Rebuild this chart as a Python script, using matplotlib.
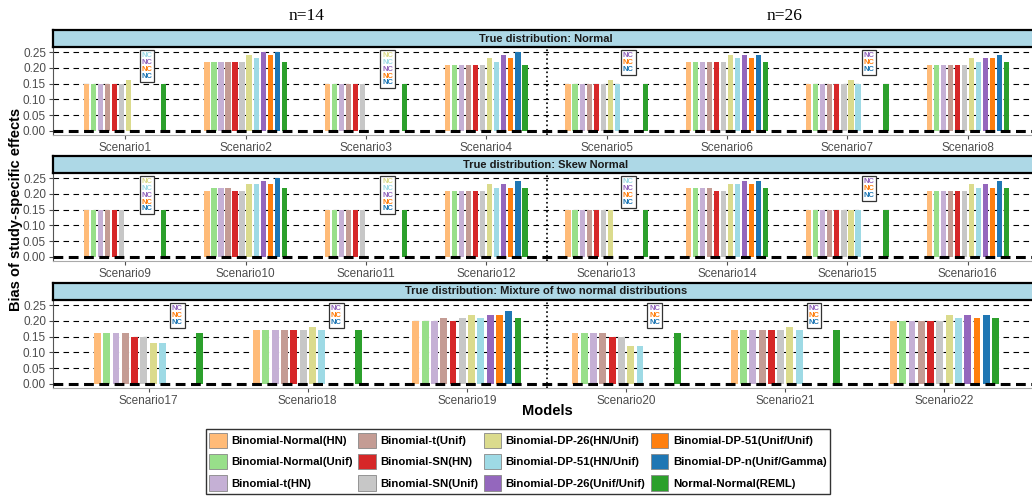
import numpy as np
import matplotlib
matplotlib.use('Agg')
import matplotlib.pyplot as plt
from matplotlib.patches import Patch

plt.rcParams['font.family'] = ['Liberation Sans', 'DejaVu Sans']

models = ['Binomial-Normal(HN)', 'Binomial-Normal(Unif)', 'Binomial-t(HN)',
          'Binomial-t(Unif)', 'Binomial-SN(HN)', 'Binomial-SN(Unif)',
          'Binomial-DP-26(HN/Unif)', 'Binomial-DP-51(HN/Unif)', 'Binomial-DP-26(Unif/Unif)',
          'Binomial-DP-51(Unif/Unif)', 'Binomial-DP-n(Unif/Gamma)', 'Normal-Normal(REML)']
colors = ['#ffbb78', '#98df8a', '#c5b0d5', '#c49c94', '#d62728', '#c7c7c7',
          '#dbdb8d', '#9edae5', '#9467bd', '#ff7f0e', '#1f77b4', '#2ca02c']

titles = ['True distribution: Normal', 'True distribution: Skew Normal',
          'True distribution: Mixture of two normal distributions']

scen_normal = ['Scenario1', 'Scenario2', 'Scenario3', 'Scenario4',
               'Scenario5', 'Scenario6', 'Scenario7', 'Scenario8']
scen_skew = ['Scenario9', 'Scenario10', 'Scenario11', 'Scenario12',
             'Scenario13', 'Scenario14', 'Scenario15', 'Scenario16']
scen_mix = ['Scenario17', 'Scenario18', 'Scenario19', 'Scenario20', 'Scenario21', 'Scenario22']

# bias per scenario, one value per model (None = not converged)
bias_normal = [
    [0.15, 0.15, 0.15, 0.15, 0.15, 0.15, 0.16, None, None, None, None, 0.15],
    [0.22, 0.22, 0.22, 0.22, 0.22, 0.22, 0.24, 0.23, 0.25, 0.24, 0.25, 0.22],
    [0.15, 0.15, 0.15, 0.15, 0.15, 0.15, None, None, None, None, None, 0.15],
    [0.21, 0.21, 0.21, 0.21, 0.21, 0.21, 0.23, 0.22, 0.24, 0.23, 0.25, 0.21],
    [0.15, 0.15, 0.15, 0.15, 0.15, 0.15, 0.16, 0.15, None, None, None, 0.15],
    [0.22, 0.22, 0.22, 0.22, 0.22, 0.22, 0.24, 0.23, 0.24, 0.23, 0.24, 0.22],
    [0.15, 0.15, 0.15, 0.15, 0.15, 0.15, 0.16, 0.15, None, None, None, 0.15],
    [0.21, 0.21, 0.21, 0.21, 0.21, 0.21, 0.23, 0.22, 0.23, 0.23, 0.24, 0.22],
]
bias_skew = [
    [0.15, 0.15, 0.15, 0.15, 0.15, 0.15, None, None, None, None, None, 0.15],
    [0.21, 0.22, 0.22, 0.22, 0.21, 0.21, 0.23, 0.23, 0.24, 0.23, 0.25, 0.22],
    [0.15, 0.15, 0.15, 0.15, 0.15, 0.15, None, None, None, None, None, 0.15],
    [0.21, 0.21, 0.21, 0.21, 0.21, 0.21, 0.23, 0.22, 0.23, 0.22, 0.24, 0.22],
    [0.15, 0.15, 0.15, 0.15, 0.15, 0.15, 0.15, None, None, None, None, 0.15],
    [0.22, 0.22, 0.22, 0.22, 0.21, 0.21, 0.23, 0.23, 0.24, 0.23, 0.24, 0.22],
    [0.15, 0.15, 0.15, 0.15, 0.15, 0.15, 0.15, 0.15, None, None, None, 0.15],
    [0.21, 0.21, 0.21, 0.21, 0.21, 0.21, 0.23, 0.22, 0.23, 0.22, 0.24, 0.22],
]
bias_mix = [
    [0.16, 0.16, 0.16, 0.16, 0.15, 0.15, 0.13, 0.13, None, None, None, 0.16],
    [0.17, 0.17, 0.17, 0.17, 0.17, 0.17, 0.18, 0.17, None, None, None, 0.17],
    [0.20, 0.20, 0.20, 0.21, 0.20, 0.21, 0.22, 0.21, 0.22, 0.22, 0.23, 0.21],
    [0.16, 0.16, 0.16, 0.16, 0.15, 0.15, 0.12, 0.12, None, None, None, 0.16],
    [0.17, 0.17, 0.17, 0.17, 0.17, 0.17, 0.18, 0.17, None, None, None, 0.17],
    [0.20, 0.20, 0.20, 0.20, 0.20, 0.20, 0.22, 0.21, 0.22, 0.21, 0.22, 0.21],
]

W, H = 1032, 500
fig = plt.figure(figsize=(W / 100, H / 100), dpi=100)

def fx(px):
    return px / W

def fy(py):
    return 1 - py / H

# panel pixel rows (strip top, panel top, panel bottom)
rows = [(30, 47, 135), (156, 173, 261), (283, 300, 388)]
left_px, right_px = 53, 1040
panels = [(bias_normal, scen_normal), (bias_skew, scen_skew), (bias_mix, scen_mix)]

nm = len(models)
dodge = 0.7
slot = dodge / nm

for p, ((data, scen), (st, pt, pb)) in enumerate(zip(panels, rows)):
    ax = fig.add_axes([fx(left_px), fy(pb), fx(right_px - left_px), (pb - pt) / H])
    ns = len(scen)
    xs = np.arange(1, ns + 1)
    vals = np.array([[np.nan if v is None else v for v in row] for row in data])

    for y in [0.05, 0.10, 0.15, 0.20, 0.25]:
        ax.axhline(y, color='black', lw=0.8, ls=(0, (5, 4)), zorder=1)

    for k in range(nm):
        off = -dodge / 2 + slot * (k + 0.5)
        ax.bar(xs + off, vals[:, k], width=slot * 0.74, color=colors[k], zorder=2)

    ax.axhline(0, color='black', lw=2.2, ls=(0, (3.2, 1.8)), zorder=3)
    ax.axvline(ns / 2 + 0.5, color='black', lw=1.2, ls=':', zorder=3)

    # NC boxes for models without results
    for i in range(ns):
        miss = [k for k in range(nm) if np.isnan(vals[i, k])]
        if not miss:
            continue
        n = len(miss)
        xt = xs[i] + 0.18
        ax.text(xt, 0.249, '\n'.join(['NC'] * n), ha='center', va='top', fontsize=5.5,
                fontweight='bold', color='none', linespacing=0.95, zorder=4,
                bbox=dict(boxstyle='square,pad=0.25', fc='white', ec='#333333', lw=0.9))
        for j, k in enumerate(miss):
            txt = '\n' * j + 'NC' + '\n' * (n - 1 - j)
            ax.text(xt, 0.249, txt, ha='center', va='top', fontsize=5.5,
                    fontweight='bold', color=colors[k], linespacing=0.95, zorder=5)

    ax.set_xlim(0.4, ns + 0.6)
    ax.set_ylim(-0.0127, 0.266)
    ax.set_xticks(xs)
    ax.set_xticklabels(scen)
    ax.set_yticks([0, 0.05, 0.10, 0.15, 0.20, 0.25])
    ax.set_yticklabels(['0.00', '0.05', '0.10', '0.15', '0.20', '0.25'])
    ax.tick_params(axis='both', labelsize=8.5, colors='#4d4d4d', length=3, width=0.8, pad=2)
    for s in ['top', 'right']:
        ax.spines[s].set_visible(False)
    ax.spines['left'].set_color('#555555')
    ax.spines['bottom'].set_color('#aaaaaa')
    ax.spines['left'].set_linewidth(0.8)
    ax.spines['bottom'].set_linewidth(0.8)

    sax = fig.add_axes([fx(left_px), fy(pt), fx(right_px - left_px), (pt - st) / H])
    sax.set_facecolor('#add8e6')
    sax.set_xticks([])
    sax.set_yticks([])
    for s in sax.spines.values():
        s.set_linewidth(1.6)
        s.set_color('black')
    sax.text(fx(546 - left_px) / fx(right_px - left_px), 0.5, titles[p], transform=sax.transAxes,
             ha='center', va='center', fontsize=8, fontweight='bold', color='#1a1a1a')

fig.text(fx(307), fy(16), 'n=14', ha='center', va='center', fontsize=12.5,
         family='Liberation Serif')
fig.text(fx(785), fy(16), 'n=26', ha='center', va='center', fontsize=12.5,
         family='Liberation Serif')
fig.text(fx(16), fy(209), 'Bias of study-specific effects', rotation=90, ha='center',
         va='center', fontsize=10.5, fontweight='bold')
fig.text(fx(547), fy(411), 'Models', ha='center', va='center', fontsize=10.5, fontweight='bold')

handles = [Patch(facecolor=c, edgecolor='#888888', lw=0.6) for c in colors]
leg = fig.legend(handles, models, ncol=4, loc='upper center', bbox_to_anchor=(fx(518), fy(429)),
                 prop={'size': 8.2, 'weight': 'bold'}, frameon=True, fancybox=False,
                 edgecolor='black', handlelength=1.5, handleheight=1.7, labelspacing=0.5,
                 columnspacing=0.5, handletextpad=0.4, borderpad=0.35, borderaxespad=0)
leg.get_frame().set_linewidth(1.0)

fig.savefig('out.png', dpi=100)
